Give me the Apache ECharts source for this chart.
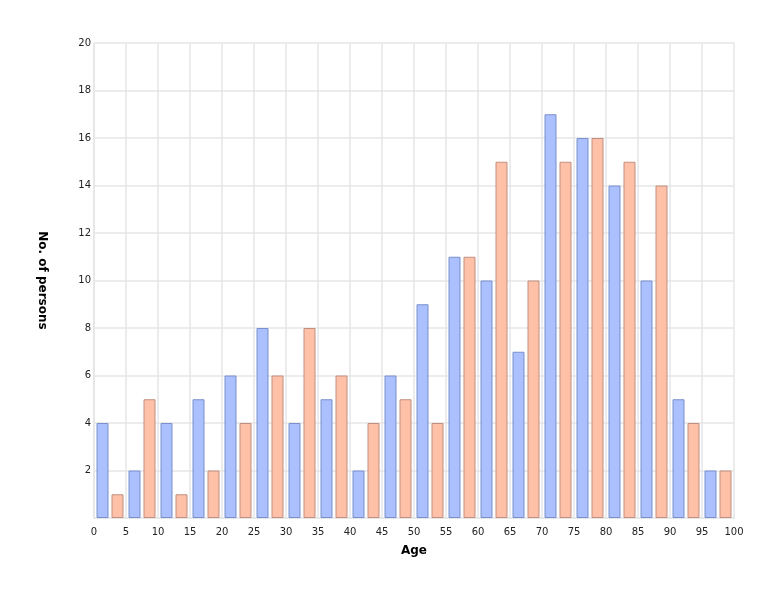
<!DOCTYPE html>
<html lang="en">
<head>
    <meta charset="UTF-8">
    <title>Age distribution</title>
    <script src="https://cdn.jsdelivr.net/npm/echarts@6/dist/echarts.min.js"></script>
    <style>
        html, body { margin: 0; height: 100%; background: #fff; }
        #main { width: 774px; height: 594px; }
    </style>
</head>
<body>
<div id="main"></div>
<script>
    // age bins (5 years each) and counts for the two groups
    var ageBins = ['0-5','5-10','10-15','15-20','20-25','25-30','30-35','35-40','40-45','45-50',
                   '50-55','55-60','60-65','65-70','70-75','75-80','80-85','85-90','90-95','95-100'];
    var blueCounts = [4, 2, 4, 5, 6, 8, 4, 5, 2, 6, 9, 11, 10, 7, 17, 16, 14, 10, 5, 2];
    var orangeCounts = [1, 5, 1, 2, 4, 6, 8, 6, 4, 5, 4, 11, 15, 10, 15, 16, 15, 14, 4, 2];

    var font = 'DejaVu Sans';
    var gridColor = '#e6e6e6';

    var myChart = echarts.init(document.getElementById('main'));
    var option = {
        animation: false,
        grid: { left: 94, right: 40, top: 43, bottom: 76, containLabel: false },
        xAxis: [{
            // hidden category axis that places the bars
            type: 'category',
            data: ageBins,
            show: false,
            boundaryGap: true
        }, {
            // visible age scale
            type: 'value',
            min: 0, max: 100, interval: 5,
            position: 'bottom',
            name: 'Age',
            nameLocation: 'middle',
            nameGap: 27,
            nameTextStyle: { fontFamily: font, fontWeight: 'bold', fontSize: 12, color: '#000' },
            axisLine: { show: true, lineStyle: { color: gridColor, width: 1.5 } },
            axisTick: { show: false },
            axisLabel: { fontFamily: font, fontSize: 10, color: '#222', margin: 9 },
            splitLine: { show: true, lineStyle: { color: gridColor, width: 1.5 } }
        }],
        yAxis: {
            type: 'value',
            min: 0, max: 20, interval: 2,
            name: 'No. of persons',
            nameLocation: 'middle',
            nameRotate: -90,
            nameGap: 46,
            nameTextStyle: { fontFamily: font, fontWeight: 'bold', fontSize: 12, color: '#000' },
            axisLine: { show: true, lineStyle: { color: gridColor, width: 1.5 } },
            axisTick: { show: false },
            axisLabel: {
                fontFamily: font, fontSize: 10, color: '#222', margin: 3,
                formatter: function (v) { return v === 0 ? '' : v; }
            },
            splitLine: { show: true, lineStyle: { color: gridColor, width: 1.5 } }
        },
        series: [{
            type: 'bar',
            xAxisIndex: 0,
            data: blueCounts,
            barWidth: 12,
            barGap: '25%',
            itemStyle: { color: '#aac0ff', borderColor: '#7b8fcc', borderWidth: 1 }
        }, {
            type: 'bar',
            xAxisIndex: 0,
            data: orangeCounts,
            barWidth: 12,
            barGap: '25%',
            itemStyle: { color: '#ffc0a8', borderColor: '#c08f80', borderWidth: 1 }
        }]
    };
    myChart.setOption(option);
</script>
</body>
</html>
